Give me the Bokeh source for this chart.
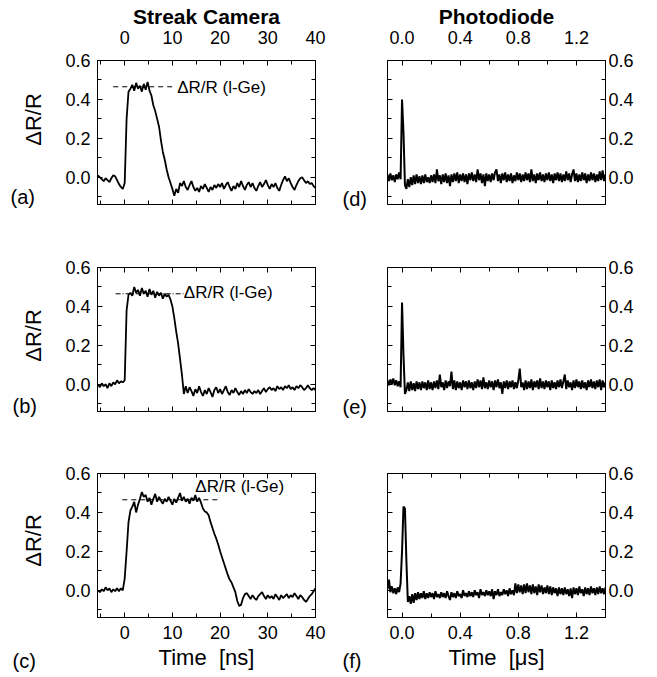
from bokeh.plotting import figure
from bokeh.models import (Range1d, LinearAxis, FixedTicker, NumeralTickFormatter,
                          CustomJSTickFormatter)
from bokeh.layouts import column, row
from bokeh.core.properties import value
from bokeh.embed import file_html
from bokeh.resources import INLINE

# ---------------- data ----------------
# streak camera sampling times [ns]
sc_time = [
    -5.6, -5.2, -4.8, -4.4, -4.0, -3.6, -3.2, -2.8, -2.4, -2.0,
    -1.6, -1.2, -0.8, -0.4, 0.0, 0.4, 0.8, 1.2, 1.6, 2.0,
    2.4, 2.8, 3.2, 3.6, 4.0, 4.4, 4.8, 5.2, 5.6, 6.0,
    6.4, 6.8, 7.2, 7.6, 8.0, 8.4, 8.8, 9.2, 9.6, 10.0,
    10.4, 10.8, 11.2, 11.6, 12.0, 12.4, 12.8, 13.2, 13.6, 14.0,
    14.4, 14.8, 15.2, 15.6, 16.0, 16.4, 16.8, 17.2, 17.6, 18.0,
    18.4, 18.8, 19.2, 19.6, 20.0, 20.4, 20.8, 21.2, 21.6, 22.0,
    22.4, 22.8, 23.2, 23.6, 24.0, 24.4, 24.8, 25.2, 25.6, 26.0,
    26.4, 26.8, 27.2, 27.6, 28.0, 28.4, 28.8, 29.2, 29.6, 30.0,
    30.4, 30.8, 31.2, 31.6, 32.0, 32.4, 32.8, 33.2, 33.6, 34.0,
    34.4, 34.8, 35.2, 35.6, 36.0, 36.4, 36.8, 37.2, 37.6, 38.0,
    38.4, 38.8, 39.2, 39.6, 40.0]

sc_a = [
    0.010, 0.000, -0.010, -0.020, -0.005, -0.015, -0.025, -0.005, 0.010, 0.005,
    -0.015, -0.035, -0.050, -0.060, -0.030, 0.300, 0.440, 0.455, 0.475, 0.445,
    0.485, 0.455, 0.470, 0.440, 0.480, 0.450, 0.490, 0.445, 0.420, 0.370,
    0.340, 0.300, 0.260, 0.190, 0.130, 0.090, 0.040, 0.000, -0.030, -0.060,
    -0.095, -0.060, -0.080, -0.030, -0.045, -0.020, -0.050, -0.065, -0.040, -0.020,
    -0.050, -0.070, -0.055, -0.075, -0.045, -0.060, -0.035, -0.055, -0.075, -0.050,
    -0.065, -0.040, -0.055, -0.035, -0.050, -0.030, -0.060, -0.040, -0.025, -0.050,
    -0.070, -0.045, -0.060, -0.030, -0.050, -0.020, -0.045, -0.065, -0.040, -0.025,
    -0.050, -0.030, -0.055, -0.070, -0.045, -0.025, -0.050, -0.035, -0.015, -0.040,
    -0.060, -0.035, -0.050, -0.030, -0.055, -0.070, -0.040, -0.015, 0.005, -0.020,
    -0.005, -0.030, -0.050, -0.065, -0.040, -0.020, -0.005, 0.000, -0.015, -0.030,
    -0.020, -0.035, -0.030, -0.045, -0.055]

sc_b = [
    0.000, -0.015, 0.005, -0.010, 0.000, -0.020, 0.005, -0.010, 0.010, 0.000,
    0.020, 0.005, 0.015, 0.010, 0.020, 0.380, 0.460, 0.470, 0.455, 0.500,
    0.470, 0.485, 0.455, 0.495, 0.465, 0.480, 0.450, 0.490, 0.460, 0.480,
    0.445, 0.475, 0.455, 0.470, 0.440, 0.465, 0.450, 0.460, 0.435, 0.400,
    0.340, 0.270, 0.210, 0.130, 0.050, -0.050, -0.010, -0.045, -0.015, -0.035,
    -0.060, -0.025, -0.045, -0.010, -0.040, -0.060, -0.030, -0.050, -0.020, -0.040,
    -0.065, -0.030, -0.015, -0.045, -0.025, -0.050, -0.030, -0.010, -0.040, -0.055,
    -0.030, -0.045, -0.020, -0.040, -0.055, -0.035, -0.050, -0.030, -0.045, -0.025,
    -0.040, -0.050, -0.035, -0.045, -0.030, -0.050, -0.035, -0.020, -0.040, -0.025,
    -0.015, -0.030, -0.020, -0.035, -0.010, -0.025, -0.015, -0.030, -0.010, -0.020,
    -0.005, -0.025, -0.015, -0.030, -0.010, -0.020, -0.005, -0.015, -0.030, -0.020,
    -0.005, -0.020, -0.030, -0.020, -0.030]

sc_c = [
    0.000, -0.010, 0.005, -0.005, 0.015, 0.000, 0.010, -0.010, 0.005, -0.005,
    0.010, -0.005, 0.010, 0.000, 0.060, 0.200, 0.350, 0.410, 0.430, 0.455,
    0.400, 0.440, 0.470, 0.505, 0.480, 0.490, 0.455, 0.475, 0.440, 0.470,
    0.495, 0.455, 0.480, 0.460, 0.445, 0.470, 0.455, 0.480, 0.460, 0.440,
    0.470, 0.450, 0.475, 0.500, 0.460, 0.480, 0.455, 0.470, 0.445, 0.475,
    0.460, 0.490, 0.455, 0.475, 0.450, 0.420, 0.405, 0.400, 0.385, 0.350,
    0.320, 0.290, 0.265, 0.235, 0.200, 0.170, 0.140, 0.110, 0.080, 0.055,
    0.040, 0.015, -0.010, -0.055, -0.080, -0.075, -0.040, -0.020, -0.015, -0.030,
    -0.045, -0.025, -0.040, -0.050, -0.030, -0.020, -0.010, -0.030, -0.045, -0.025,
    -0.040, -0.030, -0.045, -0.020, -0.035, -0.050, -0.025, -0.040, -0.030, -0.020,
    -0.040, -0.025, -0.035, -0.015, -0.030, -0.045, -0.025, -0.035, -0.050, -0.060,
    -0.045, -0.030, -0.020, -0.005, 0.010]

# photodiode sampling times [us]
pd_time = [
    -0.10, -0.09, -0.08, -0.07, -0.06, -0.05, -0.04, -0.03, -0.02, -0.01,
    0.00, 0.01, 0.02, 0.03, 0.04, 0.05, 0.06, 0.07, 0.08, 0.09,
    0.10, 0.11, 0.12, 0.13, 0.14, 0.15, 0.16, 0.17, 0.18, 0.19,
    0.20, 0.21, 0.22, 0.23, 0.24, 0.25, 0.26, 0.27, 0.28, 0.29,
    0.30, 0.31, 0.32, 0.33, 0.34, 0.35, 0.36, 0.37, 0.38, 0.39,
    0.40, 0.41, 0.42, 0.43, 0.44, 0.45, 0.46, 0.47, 0.48, 0.49,
    0.50, 0.51, 0.52, 0.53, 0.54, 0.55, 0.56, 0.57, 0.58, 0.59,
    0.60, 0.61, 0.62, 0.63, 0.64, 0.65, 0.66, 0.67, 0.68, 0.69,
    0.70, 0.71, 0.72, 0.73, 0.74, 0.75, 0.76, 0.77, 0.78, 0.79,
    0.80, 0.81, 0.82, 0.83, 0.84, 0.85, 0.86, 0.87, 0.88, 0.89,
    0.90, 0.91, 0.92, 0.93, 0.94, 0.95, 0.96, 0.97, 0.98, 0.99,
    1.00, 1.01, 1.02, 1.03, 1.04, 1.05, 1.06, 1.07, 1.08, 1.09,
    1.10, 1.11, 1.12, 1.13, 1.14, 1.15, 1.16, 1.17, 1.18, 1.19,
    1.20, 1.21, 1.22, 1.23, 1.24, 1.25, 1.26, 1.27, 1.28, 1.29,
    1.30, 1.31, 1.32, 1.33, 1.34, 1.35, 1.36, 1.37, 1.38, 1.39,
    1.40]

pd_d = [
    0.015, -0.020, 0.020, -0.015, 0.010, -0.025, 0.015, -0.010, 0.025, -0.010,
    0.400, 0.230, -0.040, -0.060, -0.010, -0.050, 0.000, -0.040, 0.010, -0.035,
    0.015, -0.030, 0.005, -0.035, 0.010, -0.030, 0.015, -0.025, 0.000, -0.030,
    0.010, -0.025, 0.015, -0.030, 0.040, -0.020, 0.010, -0.035, 0.015, -0.025,
    0.020, -0.030, 0.010, -0.045, 0.015, -0.025, 0.020, -0.020, 0.025, -0.030,
    0.015, -0.020, 0.020, -0.025, 0.015, -0.035, 0.020, -0.015, 0.025, -0.020,
    0.015, -0.025, 0.040, -0.015, 0.020, -0.030, 0.015, -0.045, 0.020, -0.020,
    0.015, -0.025, 0.020, -0.015, 0.025, 0.040, -0.020, 0.015, -0.030, 0.020,
    -0.015, 0.025, -0.025, 0.015, -0.020, 0.020, -0.030, 0.010, -0.020, 0.025,
    -0.015, 0.020, -0.025, 0.015, -0.020, 0.025, -0.015, 0.020, -0.025, 0.040,
    -0.020, 0.015, -0.030, 0.020, -0.015, 0.025, -0.020, 0.015, -0.025, 0.020,
    -0.015, 0.025, -0.020, 0.015, -0.030, 0.020, -0.015, 0.025, -0.020, 0.020,
    -0.025, 0.015, -0.020, 0.030, -0.015, 0.020, -0.025, 0.015, 0.040, -0.020,
    0.020, -0.025, 0.015, -0.020, 0.025, -0.015, 0.020, -0.030, 0.015, -0.020,
    0.025, -0.015, 0.020, -0.025, 0.015, -0.020, 0.030, -0.015, 0.035, -0.020,
    0.015]

pd_e = [
    0.020, -0.005, 0.025, 0.000, 0.030, -0.005, 0.020, -0.010, 0.015, -0.015,
    0.420, 0.150, -0.050, -0.030, 0.010, -0.035, 0.015, -0.030, 0.005, -0.035,
    0.015, -0.025, 0.010, -0.030, 0.015, -0.020, 0.010, -0.030, 0.020, -0.025,
    0.010, -0.030, 0.015, -0.020, 0.020, -0.025, 0.050, -0.015, 0.010, -0.030,
    0.020, -0.020, 0.015, -0.010, 0.065, -0.025, 0.020, -0.030, 0.015, -0.020,
    0.010, -0.030, 0.020, -0.015, 0.015, -0.025, 0.020, -0.020, 0.010, -0.030,
    0.015, -0.020, 0.025, -0.015, 0.020, -0.025, 0.035, -0.020, 0.010, -0.025,
    0.020, -0.015, 0.015, -0.030, 0.020, -0.015, 0.025, -0.020, 0.010, -0.050,
    0.015, -0.020, 0.020, -0.025, 0.015, -0.015, 0.020, -0.025, 0.010, -0.020,
    0.020, 0.080, -0.015, 0.010, -0.030, 0.020, -0.025, 0.015, -0.020, 0.025,
    -0.030, 0.015, -0.015, 0.020, -0.025, 0.030, -0.020, 0.015, -0.025, 0.020,
    -0.015, 0.015, -0.030, 0.020, -0.020, 0.010, -0.025, 0.020, -0.015, 0.025,
    -0.020, 0.015, 0.050, -0.025, 0.020, -0.015, 0.010, -0.030, 0.020, -0.020,
    0.025, -0.015, 0.015, -0.025, 0.020, -0.020, 0.010, -0.030, 0.020, -0.015,
    0.025, -0.020, 0.015, -0.025, 0.020, -0.015, 0.025, -0.030, 0.020, -0.015,
    0.010]

pd_f = [
    0.005, 0.055, -0.010, 0.020, -0.015, 0.010, -0.020, 0.015, -0.010, 0.035,
    0.200, 0.430, 0.420, 0.150, -0.060, -0.030, -0.070, -0.020, -0.065, -0.015,
    -0.050, -0.010, -0.045, -0.015, -0.040, -0.005, -0.045, -0.015, -0.040, -0.010,
    -0.035, -0.015, -0.045, -0.005, -0.035, -0.020, -0.040, -0.010, -0.035, -0.015,
    -0.040, -0.005, -0.030, -0.050, -0.010, -0.035, -0.015, -0.040, -0.005, -0.030,
    -0.020, -0.040, 0.000, -0.030, -0.015, -0.035, -0.005, -0.030, -0.010, -0.035,
    0.000, -0.025, -0.010, -0.040, 0.005, -0.025, -0.010, -0.030, 0.000, -0.025,
    -0.005, -0.030, 0.005, -0.045, -0.005, -0.025, 0.005, -0.030, -0.010, -0.025,
    0.005, -0.020, 0.000, -0.030, 0.010, -0.020, 0.000, -0.025, 0.035, -0.015,
    0.030, -0.010, 0.025, -0.020, 0.030, -0.015, 0.035, -0.010, 0.025, -0.020,
    0.030, -0.015, 0.020, -0.025, 0.030, -0.010, 0.025, -0.020, 0.015, -0.015,
    0.025, -0.020, 0.020, -0.025, 0.015, -0.015, 0.010, -0.030, 0.015, -0.020,
    0.010, -0.025, 0.015, -0.020, 0.005, -0.030, 0.010, -0.040, 0.015, -0.020,
    0.010, -0.025, 0.020, -0.015, 0.005, -0.030, 0.015, -0.020, 0.010, -0.025,
    0.020, -0.015, 0.010, -0.025, 0.015, -0.020, 0.020, -0.015, 0.010, -0.020,
    0.015]

# liquid-Ge reference level annotation (dashed lines and text positions)
lge_level = [0.465, 0.465, 0.465]
lge_x0 = [-2.4, -1.9, -0.5]
lge_x1 = [10.4, 12.3, 20.1]
lge_text = ["ΔR/R (l-Ge)", "ΔR/R (l-Ge)", "ΔR/R (l-Ge)"]
lge_tx = [11.0, 12.4, 14.8]
lge_ty = [0.462, 0.470, 0.535]

# axes ticks
sc_xticks = [0, 10, 20, 30, 40]
sc_xminor = [-5, 5, 15, 25, 35]
pd_xticks = [0.0, 0.4, 0.8, 1.2]
pd_xminor = [0.2, 0.6, 1.0]
yticks = [0.0, 0.2, 0.4, 0.6]
yminor = [-0.1, 0.1, 0.3, 0.5]

sc_xrange = (-5.7, 40.0)
pd_xrange = (-0.1, 1.4)
yrange = (-0.14, 0.6)

# ---------------- styling / layout ----------------
FONT = "Liberation Sans"
FW, FH = 218, 144
TICK_FS = "18px"
PAGE_H = 677


def base_fig(xr, bl, br, bt, bb):
    p = figure(frame_width=FW, frame_height=FH,
               x_range=Range1d(*xr), y_range=Range1d(*yrange),
               x_axis_location=None, y_axis_location=None,
               toolbar_location=None, output_backend="svg",
               min_border_left=bl, min_border_right=br,
               min_border_top=bt, min_border_bottom=bb)
    p.grid.visible = False
    p.outline_line_color = "black"
    p.outline_line_width = 1
    p.background_fill_color = "white"
    p.border_fill_color = "white"
    return p


def add_axis(p, loc, ticks, minor, fmt, labels, standoff, title=None):
    ax = LinearAxis(ticker=FixedTicker(ticks=ticks, minor_ticks=minor))
    if labels:
        ax.formatter = NumeralTickFormatter(format=fmt)
    else:
        ax.formatter = CustomJSTickFormatter(code="return ''")
    ax.major_tick_in = 5
    ax.major_tick_out = 0
    ax.minor_tick_in = 4
    ax.minor_tick_out = 0
    ax.axis_line_color = "black"
    ax.major_tick_line_color = "black"
    ax.minor_tick_line_color = "black"
    ax.major_label_text_font = FONT
    ax.major_label_text_font_size = TICK_FS
    ax.major_label_text_color = "black"
    ax.major_label_standoff = standoff
    if title:
        ax.axis_label = title
        ax.axis_label_text_font = FONT
        ax.axis_label_text_font_size = "22px"
        ax.axis_label_text_font_style = "normal"
        ax.axis_label_text_color = "black"
        ax.axis_label_standoff = 3
    p.add_layout(ax, loc)


def set_title(p, text):
    p.title.text = text
    p.title.align = "center"
    p.title.text_font = FONT
    p.title.text_font_size = "21px"
    p.title.text_font_style = "bold"
    p.title.text_color = "black"
    p.title.standoff = 0


def text_strip(width, texts, xs, ys, angles):
    # narrow figure holding the texts that sit beside the panels (page-pixel frame)
    s = figure(frame_width=width, frame_height=PAGE_H, x_range=Range1d(0, width),
               y_range=Range1d(PAGE_H, 0), x_axis_location=None, y_axis_location=None,
               toolbar_location=None, output_backend="svg", min_border=0)
    s.grid.visible = False
    s.outline_line_color = None
    s.background_fill_color = "white"
    s.border_fill_color = "white"
    for t, x, y, a in zip(texts, xs, ys, angles):
        s.text(x=[x], y=[y], text=[t], angle=a, text_font=value(FONT),
               text_font_size=value("22px" if a else "20px"),
               text_align="center" if a else "left", text_baseline="middle",
               text_color="black")
    return s


rows_cfg = [
    # (top border, bottom border, top labels, bottom labels)
    (60, 31, True, False),
    (32, 31, False, False),
    (31, 60, False, True),
]
sc_series = [sc_a, sc_b, sc_c]
pd_series = [pd_d, pd_e, pd_f]

left_panels, right_panels = [], []
for i, (bt, bb, top_lab, bot_lab) in enumerate(rows_cfg):
    # ---- streak camera panel ----
    pl = base_fig(sc_xrange, 37, 21, bt, bb)
    add_axis(pl, "left", yticks, yminor, "0.0", True, 7)
    add_axis(pl, "right", yticks, yminor, "0.0", False, 3)
    add_axis(pl, "above", sc_xticks, sc_xminor, "0", top_lab, 17)
    add_axis(pl, "below", sc_xticks, sc_xminor, "0", bot_lab, 8,
             "Time\u00a0\u00a0[ns]" if bot_lab else None)
    pl.line(sc_time, sc_series[i], line_color="black", line_width=1.8)
    pl.line([lge_x0[i], lge_x1[i]], [lge_level[i], lge_level[i]], line_color="black",
            line_width=1, line_dash="5 2 1 2" if i == 1 else "5 4")
    pl.text(x=[lge_tx[i]], y=[lge_ty[i]], text=[lge_text[i]], text_font=value(FONT),
            text_font_size=value("17px"), text_baseline="middle", text_align="left",
            text_color="black")
    if i == 0:
        set_title(pl, "Streak Camera")
    left_panels.append(pl)

    # ---- photodiode panel ----
    pr = base_fig(pd_xrange, 6, 52, bt, bb)
    add_axis(pr, "left", yticks, yminor, "0.0", False, 3)
    add_axis(pr, "right", yticks, yminor, "0.0", True, 3)
    add_axis(pr, "above", pd_xticks, pd_xminor, "0.0", top_lab, 17)
    add_axis(pr, "below", pd_xticks, pd_xminor, "0.0", bot_lab, 8,
             "Time\u00a0\u00a0[μs]" if bot_lab else None)
    pr.line(pd_time, pd_series[i], line_color="black", line_width=2.0)
    if i == 0:
        set_title(pr, "Photodiode")
    right_panels.append(pr)

strip_left = text_strip(60, ["ΔR/R", "ΔR/R", "ΔR/R", "(a)", "(b)", "(c)"],
                        [33, 33, 33, 10, 12, 12], [119, 335, 540, 196, 405, 660],
                        [1.5708, 1.5708, 1.5708, 0, 0, 0])
strip_mid = text_strip(45, ["(d)", "(e)", "(f)"], [6, 6, 6], [198, 406, 660], [0, 0, 0])

layout = row(strip_left, column(*left_panels), strip_mid, column(*right_panels))
open("out.html", "w").write(file_html(layout, INLINE))
